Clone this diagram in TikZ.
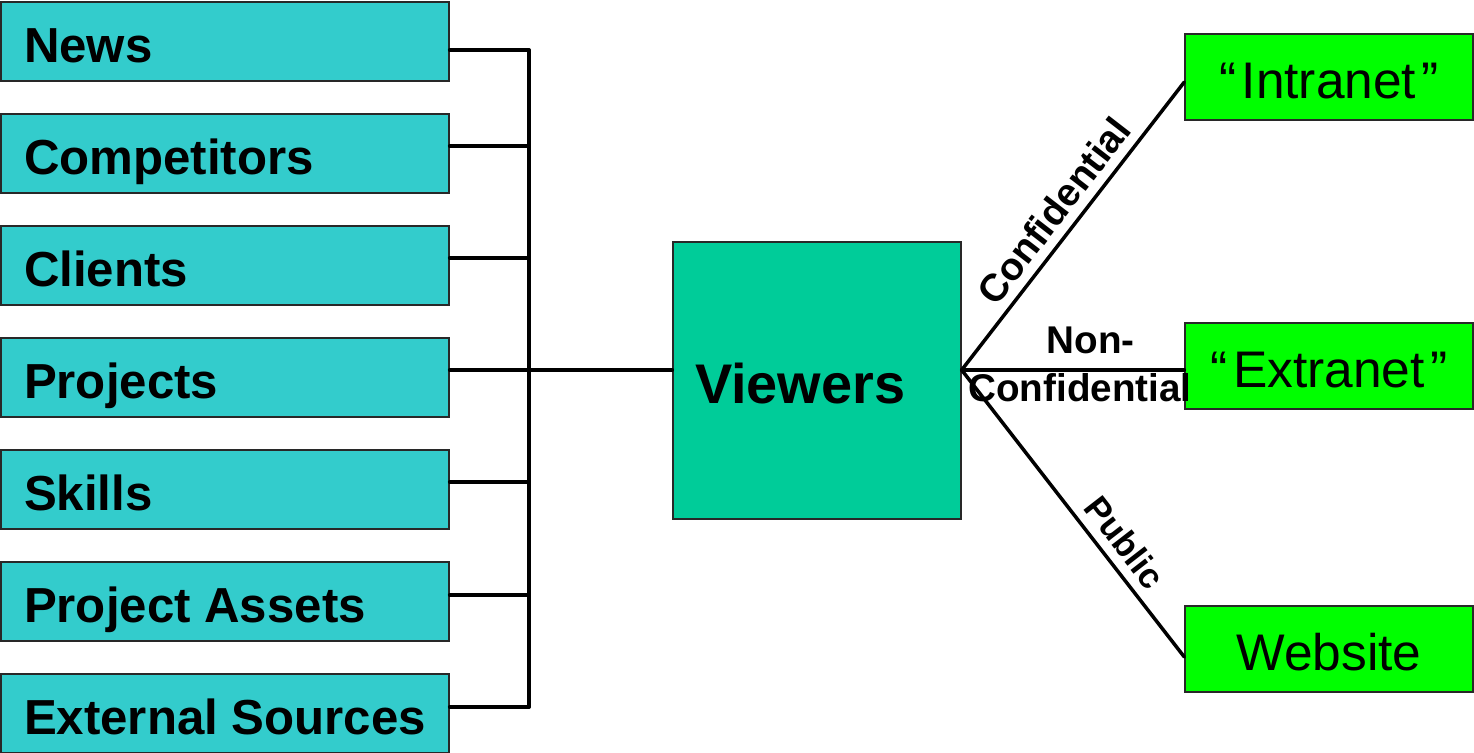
\documentclass[tikz,border=0pt]{standalone}
\usepackage{fontspec}
\setmainfont{Liberation Sans}
\usetikzlibrary{calc}
\definecolor{srcfill}{RGB}{51,204,204}
\definecolor{viewfill}{RGB}{0,204,153}
\definecolor{outfill}{RGB}{0,255,0}
\definecolor{boxedge}{RGB}{40,40,40}
\newcommand{\srctext}[1]{\makebox[8.04cm][l]{#1}}
\newcommand{\viewtext}[1]{\makebox[4.88cm][l]{#1}}
\begin{document}
\begin{tikzpicture}[x=0.02cm,y=-0.02cm,
  srcbox/.style={draw=boxedge, line width=0.8pt, fill=srcfill,
    minimum width=8.96cm, minimum height=1.58cm, inner xsep=0.46cm, inner ysep=0pt,
    text height=23.4pt, text depth=0pt,
    font=\fontsize{28}{33}\selectfont\bfseries},
  viewbox/.style={draw=boxedge, line width=0.8pt, fill=viewfill,
    minimum width=5.76cm, minimum height=5.54cm, inner xsep=0.44cm, inner ysep=0pt,
    text height=26pt, text depth=0pt,
    font=\fontsize{31.8}{36}\selectfont\bfseries},
  outbox/.style={draw=boxedge, line width=0.8pt, fill=outfill,
    minimum width=5.76cm, minimum height=1.72cm, inner sep=0pt,
    text height=24pt, text depth=0pt,
    font=\fontsize{29.3}{34}\selectfont},
  conn/.style={line width=2pt, line cap=round, line join=round},
  edgelbl/.style={inner sep=5pt, font=\fontsize{22}{27.3}\selectfont\bfseries},
  publbl/.style={inner sep=5pt, font=\fontsize{20}{24}\selectfont\bfseries}
]
\useasboundingbox (0,0) rectangle (1474,753);

% source boxes
\node[srcbox] (news)  at (225,41.5)  {\srctext{News}};
\node[srcbox] (comp)  at (225,153.5) {\srctext{Competitors}};
\node[srcbox] (cli)   at (225,265.5) {\srctext{Clients}};
\node[srcbox] (proj)  at (225,377.5) {\srctext{Projects}};
\node[srcbox] (skill) at (225,489.5) {\srctext{Skills}};
\node[srcbox] (pa)    at (225,601.5) {\srctext{Project Assets}};
\node[srcbox] (ext)   at (225,713.5) {\srctext{External Sources}};

% viewers
\node[viewbox] (view) at (817,380.5) {\viewtext{Viewers}};

% outputs
\node[outbox] (intra) at (1329,77)  {“\kern3pt Intranet\kern3pt”};
\node[outbox] (extra) at (1329,366) {“\kern3pt Extranet\kern3pt”};
\node[outbox] (web)   at (1329,649) {Website};

% bus coordinates
\coordinate (b1) at (529,50);
\coordinate (b2) at (529,146);
\coordinate (b3) at (529,258);
\coordinate (b4) at (529,370);
\coordinate (b5) at (529,482);
\coordinate (b6) at (529,595);
\coordinate (b7) at (529,707);

\draw[conn] (b1 -| news.east) -- (b1);
\draw[conn] (b2 -| comp.east) -- (b2);
\draw[conn] (b3 -| cli.east) -- (b3);
\draw[conn] (b4 -| proj.east) -- (b4);
\draw[conn] (b5 -| skill.east) -- (b5);
\draw[conn] (b6 -| pa.east) -- (b6);
\draw[conn] (b7 -| ext.east) -- (b7);
\draw[conn] (b1) -- (b7);
\draw[conn] (b4) -- (b4 -| view.west);

% right connectors
\coordinate (hub) at (b4 -| view.east);
\coordinate (iin) at ($(intra.west)+(0,5)$);
\coordinate (win) at ($(web.west)+(0,8)$);

\draw[conn] (hub) -- node[edgelbl, sloped, above, pos=0.5] {Confidential} (iin);
\draw[conn] (hub) -- (hub -| extra.west);
\draw[conn] (hub) -- node[publbl, sloped, above, pos=0.65] {Public} (win);

\node[edgelbl, inner sep=0pt, align=center] (nc) at (1080,364) {\hspace*{12pt}Non-\\Confidential};
\end{tikzpicture}
\end{document}
